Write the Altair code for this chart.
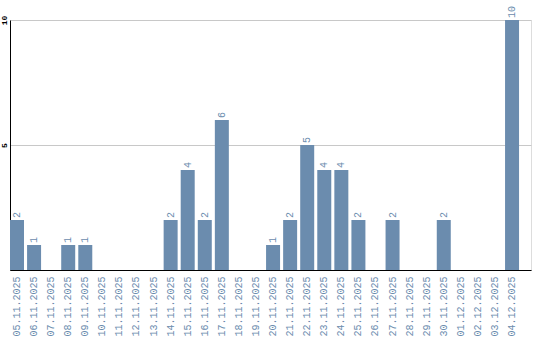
import altair as alt
import pandas as pd

dates = ["05.11.2025", "06.11.2025", "07.11.2025", "08.11.2025", "09.11.2025",
         "10.11.2025", "11.11.2025", "12.11.2025", "13.11.2025", "14.11.2025",
         "15.11.2025", "16.11.2025", "17.11.2025", "18.11.2025", "19.11.2025",
         "20.11.2025", "21.11.2025", "22.11.2025", "23.11.2025", "24.11.2025",
         "25.11.2025", "26.11.2025", "27.11.2025", "28.11.2025", "29.11.2025",
         "30.11.2025", "01.12.2025", "02.12.2025", "03.12.2025", "04.12.2025"]
counts = [2, 1, 0, 1, 1, 0, 0, 0, 0, 2, 4, 2, 6, 0, 0, 1, 2, 5, 4, 4, 2, 0, 2, 0, 0, 2, 0, 0, 0, 10]

df = pd.DataFrame({"date": dates, "count": counts})
df["label"] = df["count"].apply(lambda v: str(v) if v > 0 else "")

COLOR = "#6b8cae"
FONT = "Liberation Mono"

x = alt.X("date:N", sort=dates, title=None,
          scale=alt.Scale(paddingInner=0.18, paddingOuter=0.35, align=0),
          axis=alt.Axis(labelAngle=-90, labelColor=COLOR, labelFont=FONT, labelFontSize=10,
                        labelAlign="right", labelBaseline="middle", labelPadding=6,
                        ticks=False, domainColor="black", domainWidth=1, grid=False))
y = alt.Y("count:Q", title=None,
          scale=alt.Scale(domain=[0, 10], nice=False),
          axis=alt.Axis(values=[0, 5, 10], labelExpr="datum.value == 0 ? '' : datum.label",
                        labelAngle=-90, labelFont=FONT, labelFontSize=8, labelFontWeight="bold",
                        labelColor="black", labelAlign="center", labelBaseline="bottom",
                        labelPadding=2, ticks=False, domainColor="black", domainWidth=1,
                        grid=True, gridColor="#c8c8c8", gridWidth=1))

bars = alt.Chart(df).mark_bar(color=COLOR).encode(x=x, y=y)
text = alt.Chart(df).mark_text(angle=270, align="left", baseline="middle", dx=2,
                               color=COLOR, font=FONT, fontSize=10).encode(
    x=alt.X("date:N", sort=dates), y=alt.Y("count:Q"), text="label:N")

chart = alt.layer(bars, text).properties(
    width=521, height=250,
    padding={"left": 10, "top": 20, "right": 9, "bottom": 70},
    autosize=alt.AutoSizeParams(type="none"),
).configure_view(stroke=None).configure(background="white")

chart.save("out.html", embed_options={"renderer": "svg", "actions": False})
